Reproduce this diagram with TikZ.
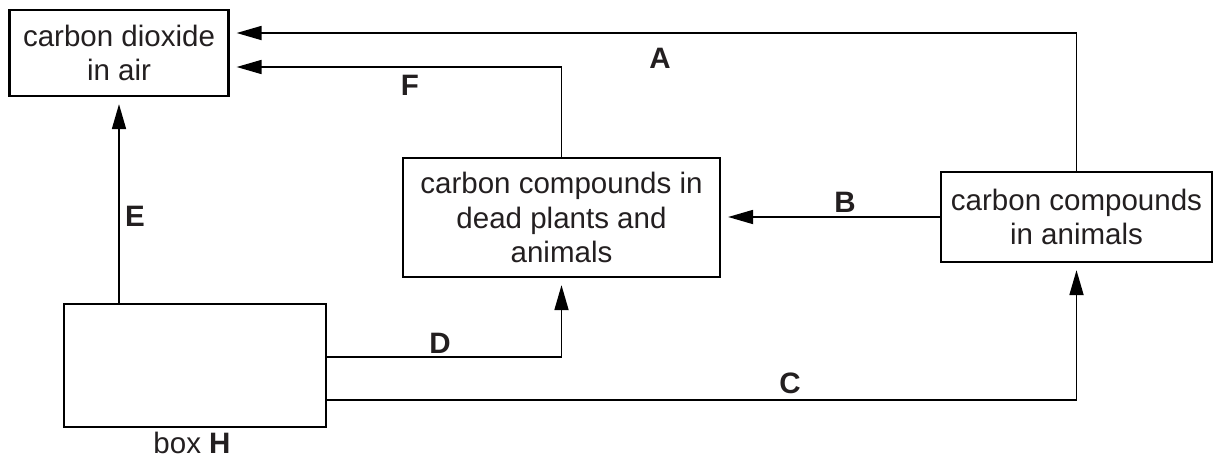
\documentclass[tikz,border=0pt]{standalone}
\usepackage{fontspec}
\setmainfont{Liberation Sans}
\usetikzlibrary{arrows.meta}
\definecolor{ink}{HTML}{231F20}

\begin{document}
\begin{tikzpicture}[x=0.02cm, y=-0.02cm,
	box/.style={draw, line width=1.3pt, align=center, inner sep=0pt, text=ink,
		font=\fontsize{16.8}{19.8}\selectfont},
	flow/.style={line width=1pt, -{Triangle[length=0.5cm, width=0.28cm]}, shorten >=0.14cm},
	lbl/.style={text=ink, font=\fontsize{16.8}{19}\selectfont\bfseries}]
	\useasboundingbox (0,0) rectangle (1214,460);
	\node [box, minimum width=4.38cm, minimum height=1.72cm] (co2) at (119,53) {carbon dioxide\\in air};
	\node [box, minimum width=6.34cm, minimum height=2.38cm] (dead) at (561.5,217.5) {carbon compounds in\\dead plants and\\animals};
	\node [box, minimum width=5.42cm, minimum height=1.8cm] (animals) at (1076.5,217) {carbon compounds\\in animals};
	\node [box, minimum width=5.24cm, minimum height=2.46cm] (H) at (195,365.5) {};
	\node [text=ink, inner sep=0pt, font=\fontsize{16.8}{19}\selectfont] (Hname) at (192,443) {box \textbf{H}};

	\draw [flow] (animals.north) |- ([yshift=0.4cm]co2.east);
	\draw [flow] (dead.north) |- ([yshift=-0.28cm]co2.east);
	\draw [flow] (animals.west) -- (dead.east |- animals.west);
	\draw [flow] (H.north -| co2.south) -- (co2.south);
	\draw [flow] ([yshift=0.17cm]H.east) -| (dead.south);
	\draw [flow] ([yshift=-0.69cm]H.east) -| (animals.south);

	\node [lbl] (A) at (660,58) {A};
	\node [lbl] (F) at (410,85) {F};
	\node [lbl] (B) at (845,202) {B};
	\node [lbl] (E) at (135,216) {E};
	\node [lbl] (D) at (440,343) {D};
	\node [lbl] (C) at (790,383) {C};
\end{tikzpicture}
\end{document}
